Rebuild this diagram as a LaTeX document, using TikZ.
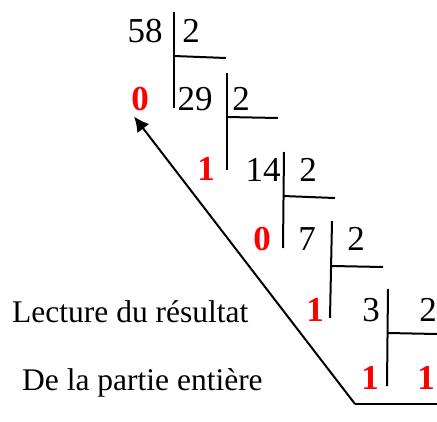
\documentclass[tikz,border=0pt]{standalone}
\usepackage{fontspec}
\setmainfont{Liberation Serif}
\usepackage{xcolor}
\usetikzlibrary{arrows.meta,positioning}

\begin{document}
\begin{tikzpicture}[x=1pt, y=-1pt,
    % Styles for the successive divisions by 2
    num/.style={inner sep=0pt, anchor=base, font=\fontsize{35}{40}\selectfont},
    bit/.style={num, text=red, font=\fontsize{35}{40}\selectfont\bfseries},
    txt/.style={inner sep=0pt, anchor=base west, font=\fontsize{31.5}{36}\selectfont},
    bar/.style={draw, line width=2pt},
    line/.style={draw, -{Latex[length=15pt, width=15pt]}, line width=2pt}]

    \useasboundingbox (0,0) rectangle (437,421);

    % Dividends and divisors
    \node [num] (n58) at (145,42) {58};
    \node [num] (d1) at (191,42) {2};
    \node [num] (n29) at (195,110) {29};
    \node [num] (d2) at (241,110) {2};
    \node [num] (n14) at (263,181) {14};
    \node [num] (d3) at (308,181) {2};
    \node [num] (n7) at (307,250) {7};
    \node [num] (d4) at (356,250) {2};
    \node [num] (n3) at (371,321) {3};
    \node [num] (d5) at (428,321) {2};

    % Remainders (red)
    \node [bit] (r0) at (140,110) {0};
    \node [bit] (r1) at (206,180) {1};
    \node [bit] (r2) at (262,250) {0};
    \node [bit] (r3) at (315,321) {1};
    \node [bit] (r4) at (370,389) {1};
    \node [bit] (q) at (426,389) {1};

    % Division bars
    \draw [bar] (174,12) -- (174,108);
    \draw [bar] (174,56) -- (226,58);
    \draw [bar] (227,73) -- (227,170);
    \draw [bar] (227,117) -- (278,118);
    \draw [bar] (284,152) -- (283,248);
    \draw [bar] (283,196) -- (335,198);
    \draw [bar] (332,221) -- (330,318);
    \draw [bar] (332,266) -- (383,267);
    \draw [bar] (388,289) -- (387,386);
    \draw [bar] (388,333) -- (437,334);

    % Reading direction
    \coordinate (corner) at (355,404);
    \coordinate (end) at (437,404);
    \draw [bar] (end) -- (corner);
    \path [line] (corner) -- ([xshift=3pt, yshift=-6pt]r0.south west);

    % Caption
    \node [txt] (lecture) at (12,322) {Lecture du résultat};
    \node [txt] (partie) at (22,390) {De la partie entière};

\end{tikzpicture}
\end{document}
